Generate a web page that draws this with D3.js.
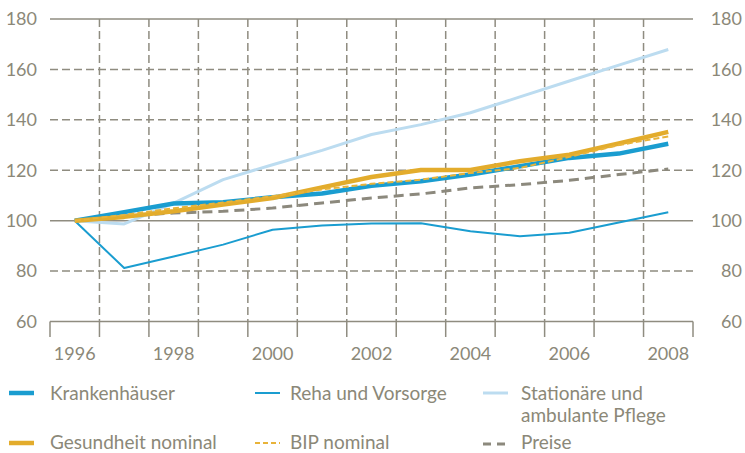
<!DOCTYPE html>
<html><head><meta charset="utf-8">
<script src="https://cdn.jsdelivr.net/npm/d3@7"></script>
<style>
html,body{margin:0;padding:0;background:#fff;}
svg{display:block;font-family:Lato,"Liberation Sans",sans-serif;}
</style></head>
<body><svg id="c" width="745" height="453"></svg>
<script>
const years = [1996,1997,1998,1999,2000,2001,2002,2003,2004,2005,2006,2007,2008];
const yearLabels = [1996,1998,2000,2002,2004,2006,2008];
const yTicks = [60,80,100,120,140,160,180];
const krankenhaeuser = [100,103.4,106.8,107.3,109.3,110.8,113.8,115.6,118.3,121.6,124.9,126.6,130.5];
const reha = [100,81.2,85.8,90.5,96.4,98.1,98.9,99.0,95.8,93.8,95.2,99.3,103.3];
const pflege = [100,98.7,107,116.3,122.2,127.9,134.2,138.1,142.8,149.1,155.4,161.7,167.9];
const gesundheit = [100,101.5,103.7,106.4,109.0,113.2,117.3,120.1,120.1,123.6,126.2,130.6,135.2];
const bip = [100,102.3,104.9,107.2,109.7,112.4,114.6,116.3,118.9,120.9,125.3,130.0,133.4];
const preise = [100,101.9,103.0,103.7,105.0,107.0,109.0,110.6,113.0,114.3,116.0,118.3,120.5];

const TXT = "#8b8878", GRID = "#8f8c80";
const svg = d3.select("#c");
const L = 50, R = 693, T = 19, B = 321.5;
const x = d3.scaleBand().domain(years).range([L, R]).paddingInner(0).paddingOuter(0);
const cx = d => x(d) + x.bandwidth()/2;
const y = d3.scaleLinear().domain([60,180]).range([B, T]);

// horizontal grid
yTicks.forEach(v => {
  const solid = (v===60 || v===100 || v===180);
  svg.append("line").attr("x1",L).attr("x2",R).attr("y1",y(v)).attr("y2",y(v))
    .attr("stroke",GRID).attr("stroke-width",1.5)
    .attr("stroke-dasharray", solid ? null : "8,4");
});
// vertical grid + ticks
const bounds = years.map(d => x(d)).concat([R]);
bounds.forEach((bx,i) => {
  if (i>0 && i<bounds.length-1) {
    svg.append("line").attr("x1",bx).attr("x2",bx).attr("y1",T).attr("y2",B)
      .attr("stroke",GRID).attr("stroke-width",1.5).attr("stroke-dasharray","8,4");
  }
  svg.append("line").attr("x1",bx).attr("x2",bx).attr("y1",B).attr("y2",337)
    .attr("stroke",GRID).attr("stroke-width",1.5);
});

// axes labels
const ax = svg.append("g").attr("transform",`translate(0,${B})`)
  .call(d3.axisBottom(x).tickValues(yearLabels).tickSize(0).tickFormat(d3.format("d")));
ax.select(".domain").remove();
ax.selectAll("text").attr("y",38.5).attr("dy",0).attr("fill",TXT).style("font-size","18px").style("font-family","Lato");

const ayl = svg.append("g").attr("transform",`translate(${L},0)`)
  .call(d3.axisLeft(y).tickValues(yTicks).tickSize(0).tickPadding(13));
ayl.select(".domain").remove();
ayl.selectAll("text").attr("fill",TXT).style("font-size","18px").style("font-family","Lato");

const ayr = svg.append("g").attr("transform",`translate(${R},0)`)
  .call(d3.axisRight(y).tickValues(yTicks).tickSize(0));
ayr.select(".domain").remove();
ayr.selectAll("text").attr("x",49).attr("text-anchor","end").attr("fill",TXT).style("font-size","18px").style("font-family","Lato");

// series
const series = [
  {name:"Preise", data:preise, color:"#8c897d", w:3, dash:"10,6"},
  {name:"Reha", data:reha, color:"#1a9dd0", w:2, dash:null},
  {name:"Pflege", data:pflege, color:"#bcdcf0", w:3, dash:null},
  {name:"Krankenhäuser", data:krankenhaeuser, color:"#1a9dd0", w:4.5, dash:null},
  {name:"Gesundheit", data:gesundheit, color:"#e3ac2c", w:4.5, dash:null},
  {name:"BIP", data:bip, color:"#e8b339", w:2, dash:"6,3"}
];
const line = d3.line().x((d,i)=>cx(years[i])).y(d=>y(d));
series.forEach(s => {
  svg.append("path").attr("d", line(s.data)).attr("fill","none")
    .attr("stroke", s.color).attr("stroke-width", s.w)
    .attr("stroke-dasharray", s.dash).attr("stroke-linejoin","round");
});

// legend
const legend = [
  {lx:9, tx:50, ly:393, color:"#1a9dd0", w:4.5, dash:null, text:["Krankenhäuser"]},
  {lx:255, tx:290, ly:393, color:"#1a9dd0", w:2, dash:null, text:["Reha und Vorsorge"]},
  {lx:483, tx:521, ly:393, color:"#bcdcf0", w:3, dash:null, text:["Stationäre und","ambulante Pflege"]},
  {lx:9, tx:50, ly:443, color:"#e3ac2c", w:4.5, dash:null, text:["Gesundheit nominal"]},
  {lx:255, tx:290, ly:443, color:"#e8b339", w:2, dash:"5,3", text:["BIP nominal"]},
  {lx:483, tx:521, ly:444, color:"#8c897d", w:3, dash:"8,6", text:["Preise"]}
];
legend.forEach(g => {
  svg.append("line").attr("x1",g.lx).attr("x2",g.lx+25).attr("y1",g.ly).attr("y2",g.ly)
    .attr("stroke",g.color).attr("stroke-width",g.w).attr("stroke-dasharray",g.dash);
  const by = g.ly < 420 ? 400 : 449;
  const t = svg.append("text").attr("x",g.tx).attr("y",by)
    .attr("fill",TXT).style("font-size","19px");
  g.text.forEach((s,i) => t.append("tspan").attr("x",g.tx).attr("dy", i===0?0:21.5).text(s));
});
</script></body></html>
